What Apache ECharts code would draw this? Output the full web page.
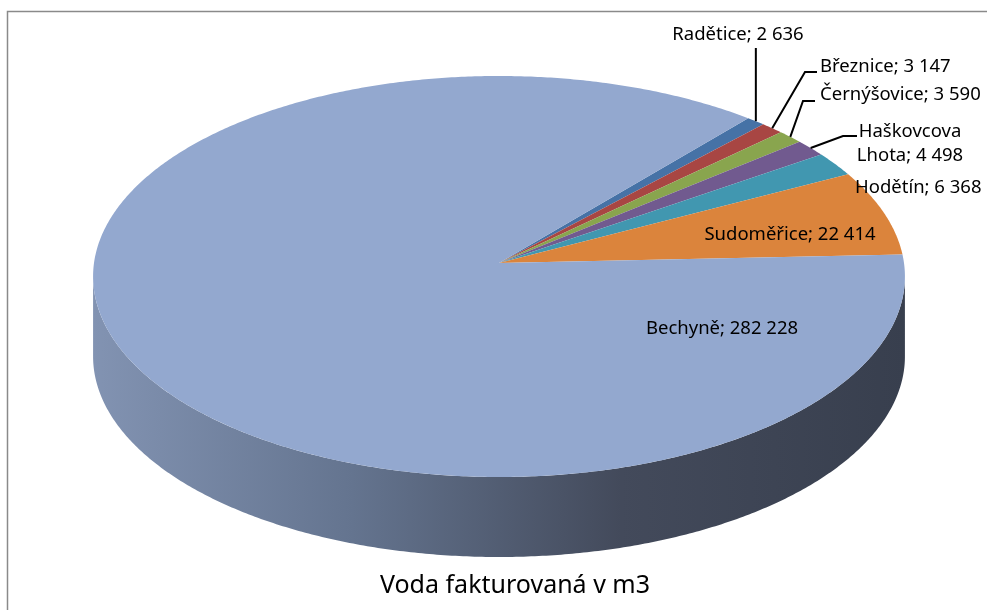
<!DOCTYPE html>
<html>
<head>
<meta charset="utf-8">
<script src="https://cdn.jsdelivr.net/npm/echarts@6.0.0/dist/echarts.min.js"></script>
<style>
  html, body { margin: 0; padding: 0; background: #fff; }
  #chart { width: 987px; height: 610px; }
</style>
</head>
<body>
<div id="chart"></div>
<script>
// data (order as drawn clockwise, starting near 1 o'clock)
var categories = ["Radětice", "Březnice", "Černýšovice", "Haškovcova Lhota", "Hodětín", "Sudoměřice", "Bechyně"];
var values = [2636, 3147, 3590, 4498, 6368, 22414, 282228];
var colors = ["#4672A6", "#A84643", "#89A54E", "#715A8F", "#4197B0", "#DB843C", "#93A8CF"];
var titleText = "Voda fakturovaná v m3";

// 3D pie geometry (pseudo perspective)
var CX = 499, CY = 263, RX = 405, RY = 199.6, K = 0.0673, DEPTH = 80;
var START = 40.3; // degrees, clockwise from 12 o'clock
var FONT = '18.5px "Noto Sans"';

// where each label text sits, and its leader line (if any)
var labelLayout = [
  { x: 738, y: 35, align: "center", leader: "vertical", top: 48 },
  { x: 820, y: 67, align: "left", leader: [[817, 72], [805, 72]] },
  { x: 820, y: 95, align: "left", leader: [[815, 101], [803, 101]] },
  { x: 910, y: 144, align: "center", wrap: true, leader: [[857, 136], [843, 136]] },
  { x: 855, y: 188, align: "left" },
  { x: 790, y: 235, align: "center" },
  { x: 722, y: 329, align: "center" }
];

var total = values.reduce(function (a, b) { return a + b; }, 0);
var angles = [];
var acc = START;
values.forEach(function (v) {
  var span = v / total * 360;
  angles.push([acc, acc + span]);
  acc += span;
});

function proj(deg, drop) {
  var t = deg * Math.PI / 180;
  var u = Math.sin(t), v = -Math.cos(t);
  var s = 1 / (1 - K * v);
  return [CX + RX * u * s, CY + RY * v * s + (drop || 0)];
}

function arc(a0, a1, drop) {
  var pts = [];
  var n = Math.max(2, Math.ceil(Math.abs(a1 - a0) / 0.5));
  for (var i = 0; i <= n; i++) pts.push(proj(a0 + (a1 - a0) * i / n, drop));
  return pts;
}

function fmt(v) {
  return String(v).replace(/\B(?=(\d{3})+(?!\d))/g, " ");
}

// visible side of the rim lies between the two silhouette angles
var SIDE0 = Math.acos(-K) * 180 / Math.PI;
var SIDE1 = 360 - SIDE0;

function renderItem(params, api) {
  var i = params.dataIndex;
  var a0 = angles[i][0], a1 = angles[i][1];
  var children = [];

  // side wall, for the part of the slice in the front half
  [0, 360].forEach(function (off) {
    var s0 = Math.max(a0, SIDE0 + off), s1 = Math.min(a1, SIDE1 + off);
    if (s1 > s0) {
      var top = arc(s0, s1, 0);
      var bottom = arc(s1, s0, DEPTH);
      children.push({
        type: "polygon",
        shape: { points: top.concat(bottom) },
        style: {
          fill: new echarts.graphic.LinearGradient(0, 0, 1, 0, [
            { offset: 0, color: "#8293B2" },
            { offset: 0.32, color: "#64748F" },
            { offset: 0.65, color: "#434A5B" },
            { offset: 1, color: "#383F4E" }
          ])
        },
        z2: 1
      });
    }
  });

  // top face
  children.push({
    type: "polygon",
    shape: { points: [[CX, CY]].concat(arc(a0, a1, 0)) },
    style: { fill: colors[i] },
    z2: 2
  });

  // label
  var lay = labelLayout[i];
  var name = lay.wrap ? categories[i].replace(" ", "\n") : categories[i];
  children.push({
    type: "text",
    style: {
      text: name + "; " + fmt(api.value(0)),
      x: lay.x, y: lay.y,
      fill: "#000",
      font: FONT,
      align: lay.align,
      verticalAlign: "middle",
      lineHeight: 24
    },
    z2: 10
  });

  if (lay.leader) {
    var rim = proj((a0 + a1) / 2, 0);
    var pts = lay.leader === "vertical"
      ? [[rim[0], lay.top], rim]
      : lay.leader.concat([rim]);
    children.push({
      type: "polyline",
      shape: { points: pts },
      style: { stroke: "#000", lineWidth: 2, fill: null },
      z2: 10
    });
  }

  return { type: "group", children: children };
}

var chart = echarts.init(document.getElementById("chart"));
chart.setOption({
  animation: false,
  title: {
    text: titleText,
    left: 510,
    top: 568,
    textAlign: "center",
    textStyle: { fontFamily: "Noto Sans", fontSize: 25, fontWeight: "normal", color: "#000" }
  },
  graphic: [
    {
      type: "rect",
      shape: { x: 7.5, y: 11.5, width: 1000, height: 700 },
      style: { fill: null, stroke: "#8a8a8a", lineWidth: 1.5 },
      silent: true
    }
  ],
  series: [
    {
      type: "custom",
      coordinateSystem: "none",
      renderItem: renderItem,
      data: values.map(function (v, i) { return { name: categories[i], value: v }; })
    }
  ]
});
</script>
</body>
</html>
